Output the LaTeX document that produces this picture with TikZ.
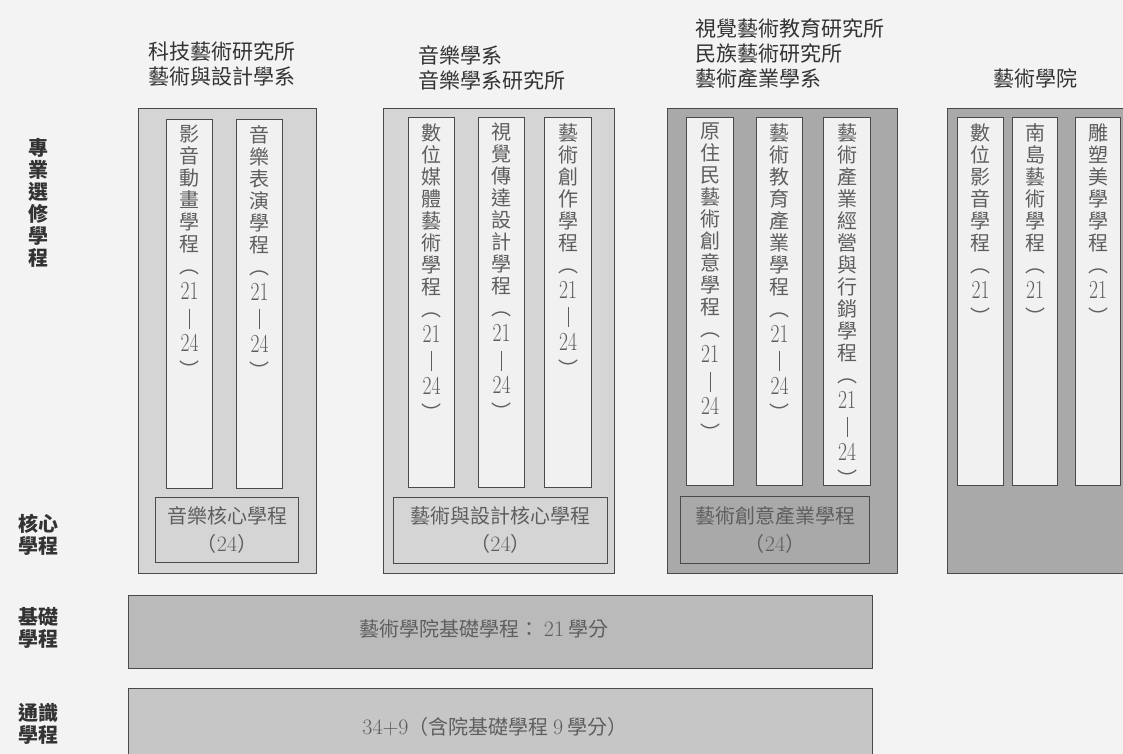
\documentclass[tikz,border=0pt]{standalone}
\usepackage{graphicx}
\usepackage{fontspec}
\newfontfamily\cjk{Noto Sans CJK TC}
\definecolor{bgc}{HTML}{F3F3F3}
\definecolor{lightfill}{HTML}{D5D5D5}
\definecolor{darkfill}{HTML}{A9A9A9}
\definecolor{stripfill}{HTML}{F1F1F1}
\definecolor{basefill}{HTML}{BABABA}
\definecolor{genfill}{HTML}{C6C6C6}
\definecolor{linec}{HTML}{4A4A4A}
\definecolor{headc}{HTML}{333333}
\definecolor{stripc}{HTML}{5E5E5E}
\newcommand\vnum[1]{\scalebox{0.75}[1]{\normalfont\fontsize{26}{22}\selectfont #1}}
\newcommand\hnum[1]{{\normalfont\fontsize{22}{24}\selectfont #1}}
\newcommand\vbar{\rule[-3pt]{0.6pt}{20pt}}
\newcommand\rng{︵\\[4pt]\vnum{21}\\[4pt]\vbar\\[4pt]\vnum{24}\\[4pt]︶}
\newcommand\rngs{︵\\[4pt]\vnum{21}\\[4pt]︶}
\tikzset{
  box/.style={draw=linec, line width=1pt, inner sep=0pt, anchor=north west},
  stripbox/.style={box, fill=stripfill},
  striptext/.style={inner sep=0pt, align=center, text=stripc, font=\cjk\fontsize{20}{22}\selectfont},
  head/.style={inner sep=0pt, align=left, text=headc, font=\cjk\fontsize{21}{25}\selectfont, anchor=north west},
  sidelab/.style={inner sep=0pt, align=center, text=headc, font=\cjk\bfseries\fontsize{20}{22}\selectfont},
  coretext/.style={inner sep=0pt, align=center, text=stripc, font=\cjk\fontsize{20}{28}\selectfont},
  bartext/.style={inner sep=0pt, text=stripc, font=\cjk\fontsize{20}{24}\selectfont}
}
\newcommand\mkstrip[6]{%
  \node[stripbox, minimum width=#4pt, minimum height=#5pt] (#1) at (#2,#3) {};
  \node[striptext, anchor=north] (#1t) at ([yshift=-6pt]#1.north) {#6};}
\begin{document}
\begin{tikzpicture}[x=1pt,y=-1pt]
\useasboundingbox (0,0) rectangle (1123,754);
\clip (0,0) rectangle (1123,754);
\fill[bgc] (0,0) rectangle (1123,754);

% headings
\node[head] (h1) at (148,42) {科技藝術研究所\\藝術與設計學系};
\node[head] (h2) at (418,45) {音樂學系\\音樂學系研究所};
\node[head] (h3) at (695,18) {視覺藝術教育研究所\\民族藝術研究所\\藝術產業學系};
\node[head] (h4) at (993,68) {藝術學院};

% side labels
\node[sidelab, anchor=north] (l1) at (38,138) {專\\業\\選\\修\\學\\程};
\node[sidelab] (l2) at (38,535) {核心\\學程};
\node[sidelab] (l3) at (38,628) {基礎\\學程};
\node[sidelab] (l4) at (38,724) {通識\\學程};

% group 1
\node[box, fill=lightfill, minimum width=178pt, minimum height=465pt] (g1) at (138,108) {};
\mkstrip{s11}{166}{119}{46}{369}{影\\音\\動\\畫\\學\\程\\\rng}
\mkstrip{s12}{236}{119}{46}{369}{音\\樂\\表\\演\\學\\程\\\rng}
\node[box, fill=lightfill, minimum width=143pt, minimum height=65pt] (c1) at (155,497) {};
\node[coretext] (c1t) at (c1.center) {音樂核心學程\\（\hnum{24}）};

% group 2
\node[box, fill=lightfill, minimum width=231pt, minimum height=465pt] (g2) at (383,108) {};
\mkstrip{s21}{408}{117}{46}{370}{數\\位\\媒\\體\\藝\\術\\學\\程\\\rng}
\mkstrip{s22}{478}{117}{46}{370}{視\\覺\\傳\\達\\設\\計\\學\\程\\\rng}
\mkstrip{s23}{544}{117}{47}{370}{藝\\術\\創\\作\\學\\程\\\rng}
\node[box, fill=lightfill, minimum width=214pt, minimum height=66pt] (c2) at (393,497) {};
\node[coretext] (c2t) at (c2.center) {藝術與設計核心學程\\（\hnum{24}）};

% group 3
\node[box, fill=darkfill, minimum width=230pt, minimum height=465pt] (g3) at (667,108) {};
\mkstrip{s31}{686}{117}{47}{368}{原\\住\\民\\藝\\術\\創\\意\\學\\程\\\rng}
\mkstrip{s32}{756}{117}{46}{368}{藝\\術\\教\\育\\產\\業\\學\\程\\\rng}
\mkstrip{s33}{823}{117}{47}{368}{藝\\術\\產\\業\\經\\營\\與\\行\\銷\\學\\程\\\rng}
\node[box, fill=darkfill, minimum width=189pt, minimum height=67pt] (c3) at (680,496) {};
\node[coretext] (c3t) at (c3.center) {藝術創意產業學程\\（\hnum{24}）};

% group 4
\node[box, fill=darkfill, minimum width=190pt, minimum height=465pt] (g4) at (947,108) {};
\mkstrip{s41}{957}{117}{46}{368}{數\\位\\影\\音\\學\\程\\\rngs}
\mkstrip{s42}{1012}{117}{45}{368}{南\\島\\藝\\術\\學\\程\\\rngs}
\mkstrip{s43}{1075}{117}{45}{368}{雕\\塑\\美\\學\\學\\程\\\rngs}

% bars
\node[box, fill=basefill, minimum width=744pt, minimum height=73pt] (b1) at (128,595) {};
\node[bartext] (b1t) at (484,629) {藝術學院基礎學程： \hnum{21} 學分};
\node[box, fill=genfill, minimum width=744pt, minimum height=80pt] (b2) at (128,688) {};
\node[bartext] (b2t) at (495,727) {\hnum{34+9}（含院基礎學程 \hnum{9} 學分）};
\end{tikzpicture}
\end{document}
